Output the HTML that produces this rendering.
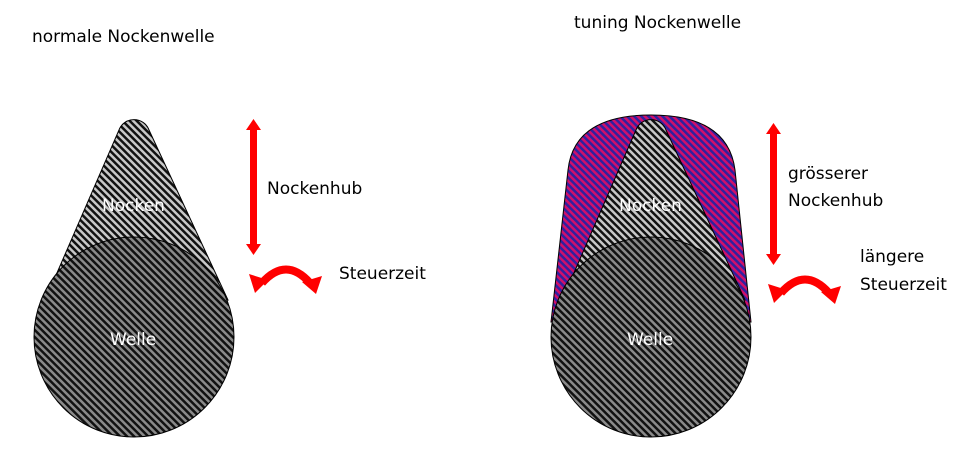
<!DOCTYPE html>
<html><head><style>
html,body{margin:0;padding:0;background:#fff;width:973px;height:475px;overflow:hidden}
text{font-family:"DejaVu Sans","Liberation Sans",sans-serif;font-size:17px}
</style></head><body>
<svg width="973" height="475" viewBox="0 0 973 475" xmlns="http://www.w3.org/2000/svg">
<defs>
<pattern id="pc" patternUnits="userSpaceOnUse" width="5" height="5" patternTransform="rotate(-45)">
<rect width="5" height="5" fill="#c8c8c8"/><rect width="2.5" height="5" fill="#111"/></pattern>
<pattern id="pw" patternUnits="userSpaceOnUse" width="5" height="5" patternTransform="rotate(-45)">
<rect width="5" height="5" fill="#8a8a8a"/><rect width="2.5" height="5" fill="#111"/></pattern>
<pattern id="pp" patternUnits="userSpaceOnUse" width="5" height="5" patternTransform="rotate(-45)">
<rect width="5" height="5" fill="#d0106a"/><rect width="2.5" height="5" fill="#3020a0"/></pattern>
</defs>
<text x="32" y="42">normale Nockenwelle</text>
<text x="574" y="28">tuning Nockenwelle</text>
<!-- left -->
<path d="M40,312 L119,130 A16,16 0 0 1 149,130 L228,300 Z" fill="url(#pc)" stroke="#000"/>
<circle cx="134" cy="337" r="100" fill="url(#pw)" stroke="#000"/>
<text x="102" y="211" fill="#fff">Nocken</text>
<text x="110" y="345" fill="#fff">Welle</text>
<!-- right -->
<path d="M551,322 L568,170 Q574,115 651,115 Q728,115 735,170 L751,322 Z" fill="url(#pp)" stroke="#000"/>
<path d="M557,312 L636,130 A16,16 0 0 1 666,130 L745,300 Z" fill="url(#pc)" stroke="#000"/>
<circle cx="651" cy="337" r="100" fill="url(#pw)" stroke="#000"/>
<text x="619" y="211" fill="#fff">Nocken</text>
<text x="627" y="345" fill="#fff">Welle</text>
<g fill="#f00" stroke="none">
<rect x="250" y="128" width="7" height="118"/>
<polygon points="253.5,119 261,130 246,130"/>
<polygon points="253.5,255 261,244 246,244"/>
<rect x="770" y="132" width="7" height="124"/>
<polygon points="773.5,123 781,134 766,134"/>
<polygon points="773.5,265 781,254 766,254"/>
</g>
<g fill="none" stroke="#f00" stroke-width="8">
<path d="M262,283 Q286,256 310,283"/>
<path d="M781,293 Q805,266 829,293"/>
</g>
<g fill="#f00">
<polygon points="249,274 268,280 255,293"/>
<polygon points="322,276 316,294 302,282"/>
<polygon points="768,284 787,290 774,303"/>
<polygon points="841,286 835,304 821,292"/>
</g>
<text x="267" y="194">Nockenhub</text>
<text x="339" y="279">Steuerzeit</text>
<text x="788" y="179">grösserer</text>
<text x="788" y="206">Nockenhub</text>
<text x="860" y="262">längere</text>
<text x="860" y="290">Steuerzeit</text>
</svg>
</body></html>
